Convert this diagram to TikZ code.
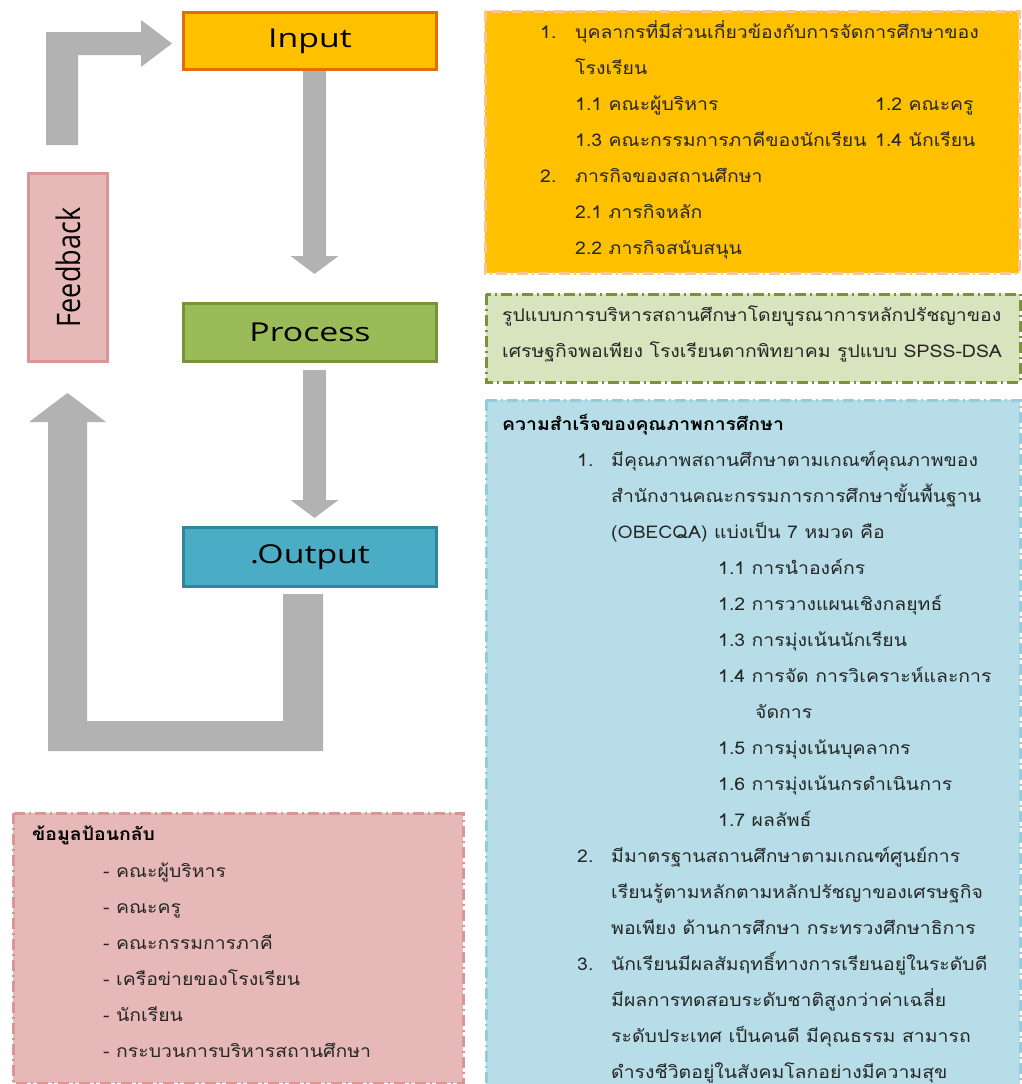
\documentclass[tikz,border=0pt]{standalone}
\usepackage{fontspec}
\usetikzlibrary{arrows.meta}
\newfontfamily\thai[Script=Thai, FakeStretch=1.11]{Loma}
\newfontfamily\lab[FakeStretch=1.3]{Open Sans}
\newfontfamily\labr{Open Sans}
\definecolor{garrow}{HTML}{B2B2B2}
\definecolor{inpfill}{HTML}{FFC000}
\definecolor{inpdraw}{HTML}{E46C0A}
\definecolor{procfill}{HTML}{9BBB59}
\definecolor{procdraw}{HTML}{77933C}
\definecolor{outfill}{HTML}{4BACC6}
\definecolor{outdraw}{HTML}{31859C}
\definecolor{fbfill}{HTML}{E6B9B8}
\definecolor{fbdraw}{HTML}{D99694}
\definecolor{ylwdraw}{HTML}{F8C49A}
\definecolor{grnfill}{HTML}{D7E4BD}
\definecolor{blufill}{HTML}{B7DEE8}
\definecolor{bludraw}{HTML}{92CDDC}
\definecolor{txt}{HTML}{262626}
\tikzset{
  stage/.style={draw, line width=3pt, minimum width=253pt, inner sep=0pt,
    font=\lab\fontsize{26}{30}\selectfont},
  panel/.style={line width=3pt, dash pattern=on 11pt off 4pt on 2pt off 4pt},
  tl/.style={anchor=base west, inner sep=0pt, text=txt, font=\thai\fontsize{17.5}{20}\selectfont},
  tb/.style={anchor=base west, inner sep=0pt, text=black, font=\thai\bfseries\fontsize{17.5}{20}\selectfont},
}
\begin{document}
\begin{tikzpicture}[x=1pt,y=-1pt]
\useasboundingbox (0,0) rectangle (1022,1084);
\fill[white] (0,0) rectangle (1022,1084);
% panels
\filldraw[panel, fill=inpfill, draw=ylwdraw] (485,11) rectangle (1019,273);
\filldraw[panel, fill=grnfill, draw=procdraw] (486,294) rectangle (1020,382);
\filldraw[panel, fill=blufill, draw=bludraw] (486,400) rectangle (1020,1100);
\filldraw[panel, fill=fbfill, draw=fbdraw] (13,813) rectangle (463,1083);
% stages
\node[stage, fill=inpfill, draw=inpdraw, minimum height=57pt] (inp) at (310,41) {Input};
\node[stage, fill=procfill, draw=procdraw, minimum height=58pt] (proc) at (310,332.5) {Process};
\node[stage, fill=outfill, draw=outdraw, minimum height=59pt] (out) at (310,557) {.Output};
\node[draw=fbdraw, fill=fbfill, line width=3pt, minimum width=79pt, minimum height=188pt,
      inner sep=0pt] (fb) at (68,267.5) {};
\begin{scope}[shift={(fb.center)}, xscale=1.2]
\node[rotate=90, transform shape, inner sep=0pt, font=\labr\fontsize{27}{30}\selectfont] (fbt) at (0,0) {Feedback};
\end{scope}
% arrows
\coordinate (a1s) at (314.5,71);
\coordinate (a1e) at (314.5,274);
\coordinate (a2s) at (314.5,370);
\coordinate (a2e) at (314.5,518);
\draw[garrow, line width=23pt, -{Triangle[width=47pt,length=18pt]}] (a1s) -- (a1e);
\draw[garrow, line width=23pt, -{Triangle[width=47pt,length=18pt]}] (a2s) -- (a2e);
\fill[garrow] (46,145) -- (46,32) -- (141,32) -- (141,20) -- (172,43.5) -- (141,67)
   -- (141,55) -- (78,55) -- (78,145) -- cycle;
\fill[garrow] (283,594) -- (323,594) -- (323,751) -- (48,751) -- (48,422) -- (29,422)
   -- (67.5,393) -- (106,422) -- (87,422) -- (87,721) -- (283,721) -- cycle;
% yellow text
\node[tl] (y1n) at (540,38) {1.};
\node[tl] (y1) at (575,38) {บุคลากรที่มีส่วนเกี่ยวข้องกับการจัดการศึกษาของ};
\node[tl] (y1b) at (575,74) {โรงเรียน};
\node[tl] (y11) at (575,110) {1.1 คณะผู้บริหาร};
\node[tl] (y12) at (875,110) {1.2 คณะครู};
\node[tl] (y13) at (575,146) {1.3 คณะกรรมการภาคีของนักเรียน};
\node[tl] (y14) at (875,146) {1.4 นักเรียน};
\node[tl] (y2n) at (540,182) {2.};
\node[tl] (y2) at (575,182) {ภารกิจของสถานศึกษา};
\node[tl] (y21) at (575,218) {2.1 ภารกิจหลัก};
\node[tl] (y22) at (575,254) {2.2 ภารกิจสนับสนุน};
% green text
\node[tl] (g1) at (502,321) {รูปแบบการบริหารสถานศึกษาโดยบูรณาการหลักปรัชญาของ};
\node[tl] (g2) at (502,357) {เศรษฐกิจพอเพียง โรงเรียนตากพิทยาคม รูปแบบ SPSS-DSA};
% blue text
\node[tb] (bh) at (502,430) {ความสำเร็จของคุณภาพการศึกษา};
\node[tl] (b1n) at (577,466) {1.};
\node[tl] (b1a) at (611,466) {มีคุณภาพสถานศึกษาตามเกณฑ์คุณภาพของ};
\node[tl] (b1b) at (611,502) {สำนักงานคณะกรรมการการศึกษาขั้นพื้นฐาน};
\node[tl] (b1c) at (611,538) {(OBECQA) แบ่งเป็น 7 หมวด คือ};
\node[tl] (b11) at (718,574) {1.1 การนำองค์กร};
\node[tl] (b12) at (718,610) {1.2 การวางแผนเชิงกลยุทธ์};
\node[tl] (b13) at (718,646) {1.3 การมุ่งเน้นนักเรียน};
\node[tl] (b14) at (718,682) {1.4 การจัด การวิเคราะห์และการ};
\node[tl] (b14b) at (755,718) {จัดการ};
\node[tl] (b15) at (718,754) {1.5 การมุ่งเน้นบุคลากร};
\node[tl] (b16) at (718,790) {1.6 การมุ่งเน้นกรดำเนินการ};
\node[tl] (b17) at (718,826) {1.7 ผลลัพธ์};
\node[tl] (b2n) at (577,862) {2.};
\node[tl] (b2a) at (611,862) {มีมาตรฐานสถานศึกษาตามเกณฑ์ศูนย์การ};
\node[tl] (b2b) at (611,898) {เรียนรู้ตามหลักตามหลักปรัชญาของเศรษฐกิจ};
\node[tl] (b2c) at (611,934) {พอเพียง ด้านการศึกษา กระทรวงศึกษาธิการ};
\node[tl] (b3n) at (577,970) {3.};
\node[tl] (b3a) at (611,970) {นักเรียนมีผลสัมฤทธิ์ทางการเรียนอยู่ในระดับดี};
\node[tl] (b3b) at (611,1006) {มีผลการทดสอบระดับชาติสูงกว่าค่าเฉลี่ย};
\node[tl] (b3c) at (611,1042) {ระดับประเทศ เป็นคนดี มีคุณธรรม สามารถ};
\node[tl] (b3d) at (611,1078) {ดำรงชีวิตอยู่ในสังคมโลกอย่างมีความสุข};
% pink text
\node[tb] (ph) at (32,840) {ข้อมูลป้อนกลับ};
\node[tl] (p1) at (103,877) {- คณะผู้บริหาร};
\node[tl] (p2) at (103,913) {- คณะครู};
\node[tl] (p3) at (103,949) {- คณะกรรมการภาคี};
\node[tl] (p4) at (103,985) {- เครือข่ายของโรงเรียน};
\node[tl] (p5) at (103,1021) {- นักเรียน};
\node[tl] (p6) at (103,1057) {- กระบวนการบริหารสถานศึกษา};
\end{tikzpicture}
\end{document}
